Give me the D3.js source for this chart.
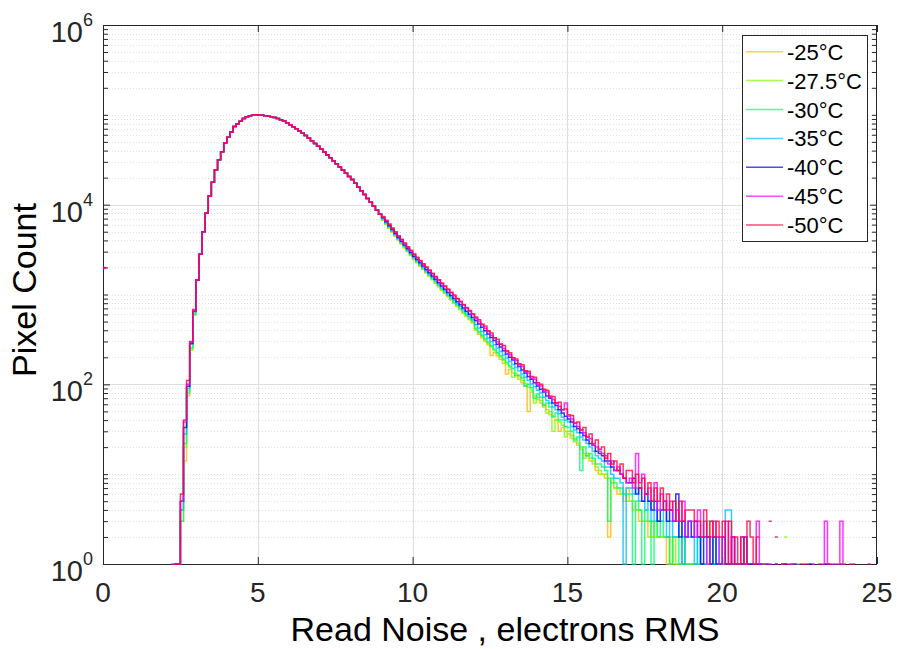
<!DOCTYPE html>
<html><head><meta charset="utf-8">
<script src="https://cdn.jsdelivr.net/npm/d3@7"></script>
<style>body{margin:0;background:#fff} svg{display:block} text{font-family:"Liberation Sans",Arial,Helvetica,sans-serif}</style>
</head><body><svg id="c" width="897" height="649"></svg>
<script>
// ---------------- data ----------------
const seriesNames = ["-25°C","-27.5°C","-30°C","-35°C","-40°C","-45°C","-50°C"];
const seriesColors = ["#ffb800","#80ff00","#00ff70","#00c0ff","#0000ff","#ff00ff","#ff0040"];
const binWidth = 0.1;
// bin [0, 0.1]
const zeroBinCounts = [0,0,0,0,0,1950,2000];
// bins 2.2 .. 2.9
const headStart = 2.2;
const headM25  = [0,1,1,4,14,75,260,620];
const headM275 = [0,1,1,3,20,85,240,590];
const headM30  = [0,1,1,3,22,80,250,600];
const headM35  = [0,1,1,4,28,90,280,640];
const headM40  = [0,1,1,5,33,95,285,650];
const headM45  = [1,1,1,5,38,100,295,660];
const headM50  = [0,1,1,6,40,110,300,680];
// bins 3.0 .. 8.9 (all series overlap here)
const coreStart = 3.0;
const coreCounts = [1450,2800,5000,8100,12600,17800,24500,31600,38900,49000,
  56200,64600,74100,79400,85100,91200,95500,97700,99500,100000,
  99800,99100,97950,96600,95060,93330,90780,88100,85110,81660,
  77620,73790,69980,66070,62370,58880,55080,51520,48080,44770,
  41690,38640,35810,33190,30760,28510,26300,24270,22390,20650,
  19050,17300,15700,14260,12940,11750,10620,9600,8670,7830];
// bins 9.0 .. 24.9
const tailStart = 9.0;
const tailM25 = [6700,6050,5460,4930,4450,4020,3640,3300,2990,2710,
  2460,2250,2065,1893,1735,1592,1460,1337,1223,1118,
  1025,943,866,797,733,675,620,570,525,482,
  400,360,330,300,276,210,228,208,190,172,
  130,146,134,124,114,104,96,50,82,74,
  68,62,56,52,46,43,40,30,33,30,
  28,25,23,21,19,17,16,14,13,11,
  10,10,9,2,8,7,6,6,5,7,
  5,4,4,3,3,3,2,2,2,2,
  2,2,1,2,1,1,1,2,1,1,
  1,1,1,1,0,1,3,1,1,0,
  1,0,0,1,0,0,1,0,0,0,
  0,1,0,0,0,0,0,0,0,0,
  0,0,0,0,0,0,0,0,0,0,
  0,0,0,0,0,0,0,0,0,0,
  0,0,0,0,0,0,0,0,0,0];
const tailM275 = [6760,6110,5510,4980,4495,4060,3680,3340,3025,2745,
  2490,2280,2090,1918,1758,1614,1480,1356,1240,1135,
  1040,958,880,810,746,686,632,580,535,492,
  408,372,344,312,286,262,240,220,202,185,
  168,154,120,132,122,110,102,92,86,62,
  72,66,60,48,50,30,40,38,35,26,
  30,27,25,22,20,15,17,15,14,12,
  11,10,10,9,8,7,7,6,6,5,
  5,5,4,4,3,3,3,2,3,2,
  2,2,2,1,2,1,1,1,1,1,
  1,0,1,1,0,1,0,0,1,0,
  0,1,0,0,1,0,0,0,0,0,
  0,0,0,1,0,0,0,0,0,0,
  2,0,0,0,0,0,0,0,0,0,
  0,0,0,0,0,0,0,0,0,0,
  0,0,0,0,0,0,0,0,0,0];
const tailM30 = [6850,6190,5590,5050,4560,4120,3735,3395,3075,2790,
  2530,2320,2130,1955,1790,1645,1510,1385,1268,1162,
  1065,980,902,830,765,705,648,597,550,506,
  420,384,352,322,296,268,246,226,208,190,
  176,160,150,126,126,118,96,100,92,70,
  78,72,58,62,56,44,48,40,40,34,
  33,30,24,26,11,20,16,17,15,13,
  13,12,11,3,9,8,7,7,6,6,
  6,1,5,4,1,4,3,1,3,2,
  3,2,2,1,2,2,1,2,1,1,
  1,1,2,1,1,3,3,1,1,1,
  1,0,1,1,0,0,0,1,0,0,
  0,0,0,1,0,0,0,0,0,0,
  0,0,0,0,1,0,0,0,0,0,
  0,0,0,0,0,0,0,0,1,0,
  0,0,0,0,0,0,0,0,0,0];
const tailM35 = [7000,6330,5720,5160,4670,4220,3830,3480,3150,2865,
  2600,2385,2190,2010,1845,1695,1555,1428,1310,1200,
  1100,1015,935,862,795,733,675,622,574,528,
  462,424,388,356,328,300,276,254,232,212,
  196,180,166,154,141,130,120,111,101,94,
  86,80,72,66,62,56,52,47,43,40,
  38,34,31,29,26,24,22,20,18,16,
  15,14,12,12,10,9,9,8,1,7,
  7,6,7,5,5,4,5,3,4,3,
  3,4,2,3,2,2,3,1,2,2,
  2,1,2,1,1,2,1,1,2,1,
  1,4,4,1,0,1,1,0,0,1,
  0,0,1,0,0,0,0,0,0,0,
  0,0,1,0,0,0,0,0,0,0,
  0,0,0,0,0,0,0,0,0,0,
  0,0,0,0,0,0,0,0,0,0];
const tailM40 = [7150,6470,5840,5280,4770,4320,3915,3560,3230,2935,
  2665,2450,2255,2070,1900,1750,1605,1475,1355,1245,
  1145,1055,975,900,830,768,708,652,603,556,
  512,468,432,394,364,332,308,280,260,236,
  218,200,186,170,158,144,134,122,114,104,
  96,88,82,74,70,62,58,52,48,44,
  41,38,34,32,29,27,24,22,21,18,
  17,16,14,14,12,11,11,10,9,8,
  8,9,6,7,5,6,5,4,5,3,
  4,5,3,4,3,6,2,3,2,3,
  2,3,2,1,2,2,1,2,1,1,
  2,1,1,2,1,0,1,2,1,1,
  0,1,1,0,1,0,0,1,0,0,
  1,0,0,1,0,0,0,0,1,0,
  0,0,0,1,0,0,0,0,0,0,
  0,0,0,0,0,0,0,0,0,0];
const tailM45 = [7300,6620,6000,5430,4920,4460,4050,3690,3350,3050,
  2780,2560,2360,2170,1995,1840,1695,1560,1440,1320,
  1225,1130,1045,965,895,825,765,705,650,600,
  545,500,462,420,388,350,330,298,280,250,
  232,214,196,184,166,158,140,134,118,114,
  100,96,86,82,72,68,62,57,52,62,
  44,41,37,34,31,29,26,25,21,20,
  18,17,16,13,14,11,12,10,9,8,
  9,7,17,8,10,6,7,5,8,4,
  6,5,4,5,3,4,3,5,2,3,
  3,2,4,2,3,1,2,3,2,1,
  2,3,1,2,1,1,2,1,1,0,
  1,3,1,0,1,1,0,1,0,1,
  0,1,0,1,0,0,1,0,0,1,
  0,0,1,3,1,1,1,1,3,1,
  0,1,0,0,0,0,0,0,0,0];
const tailM50 = [7400,6700,6080,5500,4990,4520,4110,3740,3400,3100,
  2820,2600,2390,2200,2030,1870,1720,1585,1460,1345,
  1245,1150,1060,985,905,840,775,715,665,610,
  560,525,470,445,395,372,330,318,282,270,
  236,225,198,192,170,165,142,140,122,120,
  104,100,88,86,74,73,62,63,52,53,
  46,45,37,38,31,33,26,28,22,24,
  19,20,15,17,13,14,11,13,9,11,
  11,8,10,7,9,6,8,5,7,5,
  7,4,6,4,5,3,5,3,4,4,
  4,3,3,2,4,2,3,2,3,2,
  3,1,3,1,2,1,2,1,3,2,
  1,2,0,1,0,3,0,2,0,1,
  1,0,1,0,0,1,0,1,0,0,
  0,1,0,0,1,0,0,0,1,0,
  0,0,1,0,0,0,0,1,0,0];
const headCounts = [headM25,headM275,headM30,headM35,headM40,headM45,headM50];
const tailCounts = [tailM25,tailM275,tailM30,tailM35,tailM40,tailM45,tailM50];

const xTicks = [0,5,10,15,20,25];
const yTicks = [1,1e2,1e4,1e6];
const yTickExponents = ["0","2","4","6"];
const xLabel = "Read Noise , electrons RMS";
const yLabel = "Pixel Count";

// ---------------- layout ----------------
const svg = d3.select("#c");
const L = 103, R = 877, T = 25, B = 564;
const x = d3.scaleLinear().domain([0,25]).range([L,R]);
const y = d3.scaleLog().domain([1,1e6]).range([B,T]);
const axisColor = "#262626";

const minorY = [];
for (let e = 0; e < 6; e++) for (let k = 2; k <= 9; k++) minorY.push(k*Math.pow(10,e));
const minorAll = minorY.concat([10,1e3,1e5]);

// minor grid (dotted)
svg.append("g").selectAll("line").data(minorAll).join("line")
  .attr("x1",L).attr("x2",R).attr("y1",d=>Math.round(y(d))+0.5).attr("y2",d=>Math.round(y(d))+0.5)
  .attr("stroke","#e2e2e2").attr("stroke-width",1).attr("stroke-dasharray","1,2");
// major grid
svg.append("g").selectAll("line").data(yTicks.slice(1,3)).join("line")
  .attr("x1",L).attr("x2",R).attr("y1",d=>Math.round(y(d))+0.5).attr("y2",d=>Math.round(y(d))+0.5)
  .attr("stroke","#dedede").attr("stroke-width",1);
svg.append("g").selectAll("line").data(xTicks.slice(1,5)).join("line")
  .attr("y1",T).attr("y2",B).attr("x1",d=>Math.round(x(d))+0.5).attr("x2",d=>Math.round(x(d))+0.5)
  .attr("stroke","#dedede").attr("stroke-width",1);

// axes (MATLAB box, inward ticks)
function styleAxis(g){ g.select(".domain").remove(); g.selectAll("line").attr("stroke",axisColor); g.selectAll("text").remove(); }
svg.append("g").attr("transform",`translate(0,${B})`).call(d3.axisBottom(x).tickValues(xTicks).tickSize(-7)).call(styleAxis);
svg.append("g").attr("transform",`translate(0,${T})`).call(d3.axisTop(x).tickValues(xTicks).tickSize(-7)).call(styleAxis);
svg.append("g").attr("transform",`translate(${L},0)`).call(d3.axisLeft(y).tickValues(yTicks).tickSize(-7)).call(styleAxis);
svg.append("g").attr("transform",`translate(${L},0)`).call(d3.axisLeft(y).tickValues(minorAll).tickSize(-5)).call(styleAxis);
svg.append("g").attr("transform",`translate(${R},0)`).call(d3.axisRight(y).tickValues(yTicks).tickSize(-7)).call(styleAxis);
svg.append("g").attr("transform",`translate(${R},0)`).call(d3.axisRight(y).tickValues(minorAll).tickSize(-5)).call(styleAxis);
svg.append("rect").attr("x",L+0.5).attr("y",T+0.5).attr("width",R-L-1).attr("height",B-T)
  .attr("fill","none").attr("stroke",axisColor).attr("stroke-width",1);

// tick labels
svg.append("g").selectAll("text").data(xTicks).join("text")
  .attr("x",d=>x(d)).attr("y",602).attr("text-anchor","middle")
  .attr("font-size",28).attr("fill",axisColor).text(d=>d);
const yl = svg.append("g").selectAll("text").data(yTicks).join("text")
  .attr("x",L-10).attr("y",d=>y(d)+17).attr("text-anchor","end").attr("fill",axisColor).attr("font-size",29);
yl.append("tspan").text("10");
yl.append("tspan").attr("dy",-16).attr("font-size",18).text((d,i)=>yTickExponents[i]);

// axis labels
svg.append("text").attr("x",(L+R)/2 + 15).attr("y",641).attr("text-anchor","middle")
  .attr("font-size",34).attr("fill","#000").text(xLabel);
svg.append("text").attr("transform",`translate(36,290) rotate(-90)`).attr("text-anchor","middle")
  .attr("font-size",34).attr("fill","#000").text(yLabel);

// data
svg.append("clipPath").attr("id","pc").append("rect").attr("x",L).attr("y",T-1).attr("width",R-L).attr("height",B-T+3);
function buildBins(s){
  const bins = [];
  bins.push({x0:0, x1:binWidth, v:zeroBinCounts[s]});
  bins.push({x0:binWidth, x1:headStart, v:0});
  headCounts[s].forEach((v,i)=>bins.push({x0:headStart+i*binWidth, x1:headStart+(i+1)*binWidth, v}));
  coreCounts.forEach((v,i)=>bins.push({x0:coreStart+i*binWidth, x1:coreStart+(i+1)*binWidth, v}));
  tailCounts[s].forEach((v,i)=>bins.push({x0:tailStart+i*binWidth, x1:tailStart+(i+1)*binWidth, v}));
  const pts = [];
  bins.forEach(b=>{ pts.push({x:b.x0, v:b.v}); pts.push({x:b.x1, v:b.v}); });
  return pts;
}
const line = d3.line().defined(p=>p.v>0).x(p=>x(p.x)).y(p=>y(p.v));
const gData = svg.append("g").attr("clip-path","url(#pc)");
seriesNames.forEach((n,s)=>{
  gData.append("path").attr("d",line(buildBins(s))).attr("fill","none")
    .attr("stroke",seriesColors[s]).attr("stroke-opacity",0.8).attr("stroke-width",1.5);
});

// legend
const lg = svg.append("g");
lg.append("rect").attr("x",742.5).attr("y",35.5).attr("width",125).attr("height",206)
  .attr("fill","#fff").attr("stroke",axisColor).attr("stroke-width",1);
seriesNames.forEach((n,i)=>{
  const cy = 51.7 + i*28.9;
  lg.append("line").attr("x1",746).attr("x2",783).attr("y1",cy).attr("y2",cy)
    .attr("stroke",seriesColors[i]).attr("stroke-opacity",0.7).attr("stroke-width",1.5);
  lg.append("text").attr("x",787).attr("y",cy+8).attr("font-size",22).attr("fill","#000").text(n);
});
</script></body></html>
